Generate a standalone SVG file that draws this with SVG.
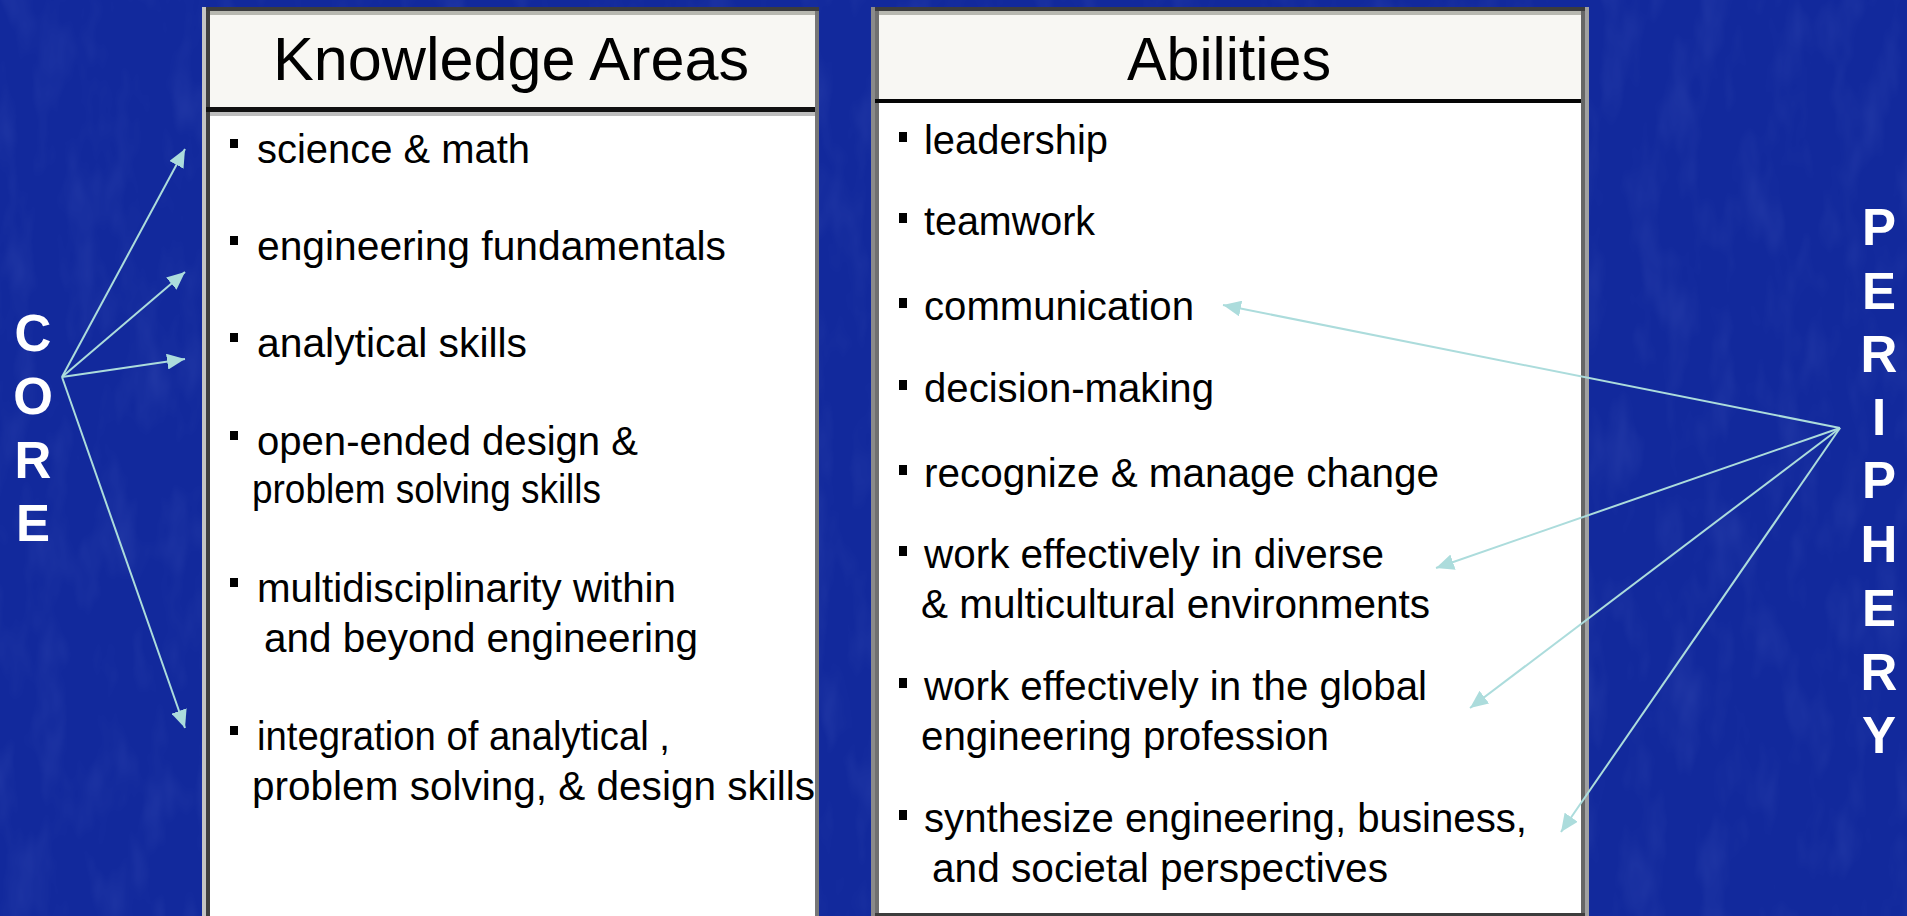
<svg xmlns="http://www.w3.org/2000/svg" width="1907" height="916" viewBox="0 0 1907 916">
  <defs>
    <style>
      .title { font-family: "Liberation Sans", Arial, sans-serif; font-size: 62px; fill: #000; }
      .item { font-family: "Liberation Sans", Arial, sans-serif; font-size: 40px; fill: #000; }
      .side { font-family: "Liberation Sans", Arial, sans-serif; font-size: 51px; font-weight: bold; fill: #fff; text-anchor: middle; }
      .arrow { stroke: #acdcdc; stroke-width: 2; fill: none; marker-end: url(#head); }
      .bullet { fill: #000; }
    </style>
    <marker id="head" markerUnits="userSpaceOnUse" markerWidth="20" markerHeight="16" refX="18" refY="8" orient="auto">
      <path d="M0,0 L18,8 L0,16 Z" fill="#acdcdc"/>
    </marker>
    <filter id="grain" x="0" y="0" width="100%" height="100%">
      <feTurbulence type="fractalNoise" baseFrequency="0.03 0.012" numOctaves="3" seed="7"/>
      <feColorMatrix type="matrix" values="0 0 0 0 0.45  0 0 0 0 0.55  0 0 0 0 1  0 0 0 1.2 -0.55"/>
    </filter>
  </defs>

  <!-- backdrop -->
  <rect x="0" y="0" width="1907" height="916" fill="#12299c"/>
  <rect x="0" y="0" width="1907" height="916" filter="url(#grain)" opacity="0.15"/>

  <!-- left column: knowledge areas -->
  <g id="knowledge-areas">
    <rect x="210" y="15" width="605" height="92" fill="#f8f7f3"/>
    <rect x="210" y="116" width="605" height="800" fill="#ffffff"/>
    <rect x="202" y="7" width="617" height="4" fill="#3c3c3c"/>
    <rect x="206" y="11" width="609" height="4" fill="#b8b8b0"/>
    <rect x="202" y="7" width="4" height="909" fill="#c4c4c4"/>
    <rect x="206" y="11" width="4" height="905" fill="#404040"/>
    <rect x="206" y="107" width="613" height="5" fill="#111111"/>
    <rect x="210" y="112" width="605" height="4" fill="#bdbdbd"/>
    <text class="title" x="273" y="80" textLength="476" lengthAdjust="spacingAndGlyphs">Knowledge Areas</text>

    <rect class="bullet" x="230" y="139" width="8" height="9"/>
    <text class="item" x="257" y="163" textLength="273" lengthAdjust="spacingAndGlyphs">science &amp; math</text>
    <rect class="bullet" x="230" y="236" width="8" height="9"/>
    <text class="item" x="257" y="260" textLength="469" lengthAdjust="spacingAndGlyphs">engineering fundamentals</text>
    <rect class="bullet" x="230" y="333" width="8" height="9"/>
    <text class="item" x="257" y="357" textLength="270" lengthAdjust="spacingAndGlyphs">analytical skills</text>
    <rect class="bullet" x="230" y="431" width="8" height="9"/>
    <text class="item" x="257" y="455" textLength="381" lengthAdjust="spacingAndGlyphs">open-ended design &amp;</text>
    <text class="item" x="252" y="503" textLength="349" lengthAdjust="spacingAndGlyphs">problem  solving skills</text>
    <rect class="bullet" x="230" y="578" width="8" height="9"/>
    <text class="item" x="257" y="602" textLength="419" lengthAdjust="spacingAndGlyphs">multidisciplinarity within</text>
    <text class="item" x="264" y="652" textLength="434" lengthAdjust="spacingAndGlyphs">and beyond engineering</text>
    <rect class="bullet" x="230" y="726" width="8" height="9"/>
    <text class="item" x="257" y="750" textLength="413" lengthAdjust="spacingAndGlyphs">integration of analytical ,</text>
    <text class="item" x="252" y="800" textLength="563" lengthAdjust="spacingAndGlyphs">problem  solving, &amp; design skills</text>

    <rect x="815" y="11" width="4" height="905" fill="#777777"/>
  </g>

  <!-- right column: abilities -->
  <g id="abilities">
    <rect x="879" y="15" width="702" height="84" fill="#f8f7f3"/>
    <rect x="879" y="103" width="702" height="811" fill="#ffffff"/>
    <rect x="871" y="7" width="718" height="4" fill="#3c3c3c"/>
    <rect x="875" y="11" width="706" height="4" fill="#b8b8b0"/>
    <rect x="871" y="7" width="4" height="909" fill="#8a8a8a"/>
    <rect x="875" y="11" width="4" height="905" fill="#707070"/>
    <rect x="875" y="99" width="710" height="4" fill="#050505"/>
    <rect x="1581" y="11" width="4" height="905" fill="#666666"/>
    <rect x="1585" y="7" width="4" height="909" fill="#a0a0a0"/>
    <rect x="875" y="913" width="710" height="3" fill="#3c3c3c"/>
    <text class="title" x="1127" y="80" textLength="204" lengthAdjust="spacingAndGlyphs">Abilities</text>

    <rect class="bullet" x="899" y="132" width="8" height="10"/>
    <text class="item" x="924" y="154" textLength="184" lengthAdjust="spacingAndGlyphs">leadership</text>
    <rect class="bullet" x="899" y="213" width="8" height="10"/>
    <text class="item" x="924" y="235" textLength="171" lengthAdjust="spacingAndGlyphs">teamwork</text>
    <rect class="bullet" x="899" y="298" width="8" height="10"/>
    <text class="item" x="924" y="320" textLength="270" lengthAdjust="spacingAndGlyphs">communication</text>
    <rect class="bullet" x="899" y="380" width="8" height="10"/>
    <text class="item" x="924" y="402" textLength="290" lengthAdjust="spacingAndGlyphs">decision-making</text>
    <rect class="bullet" x="899" y="465" width="8" height="10"/>
    <text class="item" x="924" y="487" textLength="515" lengthAdjust="spacingAndGlyphs">recognize &amp; manage change</text>
    <rect class="bullet" x="899" y="546" width="8" height="10"/>
    <text class="item" x="924" y="568" textLength="460" lengthAdjust="spacingAndGlyphs">work effectively in diverse</text>
    <text class="item" x="921" y="618" textLength="509" lengthAdjust="spacingAndGlyphs">&amp; multicultural environments</text>
    <rect class="bullet" x="899" y="678" width="8" height="10"/>
    <text class="item" x="924" y="700" textLength="503" lengthAdjust="spacingAndGlyphs">work effectively in the global</text>
    <text class="item" x="921" y="750" textLength="408" lengthAdjust="spacingAndGlyphs">engineering profession</text>
    <rect class="bullet" x="899" y="810" width="8" height="10"/>
    <text class="item" x="924" y="832" textLength="603" lengthAdjust="spacingAndGlyphs">synthesize engineering, business,</text>
    <text class="item" x="932" y="882" textLength="456" lengthAdjust="spacingAndGlyphs">and societal perspectives</text>
  </g>

  <!-- vertical labels -->
  <g id="core">
    <text class="side" x="33" y="351">C</text>
    <text class="side" x="33" y="414">O</text>
    <text class="side" x="33" y="478">R</text>
    <text class="side" x="33" y="541">E</text>
  </g>
  <g id="periphery">
    <text class="side" x="1879" y="245">P</text>
    <text class="side" x="1879" y="309">E</text>
    <text class="side" x="1879" y="372">R</text>
    <text class="side" x="1879" y="435">I</text>
    <text class="side" x="1879" y="498">P</text>
    <text class="side" x="1879" y="562">H</text>
    <text class="side" x="1879" y="626">E</text>
    <text class="side" x="1879" y="690">R</text>
    <text class="side" x="1879" y="753">Y</text>
  </g>

  <!-- connectors -->
  <g id="connectors">
    <line class="arrow" x1="62" y1="377" x2="185" y2="149"/>
    <line class="arrow" x1="62" y1="377" x2="185" y2="272"/>
    <line class="arrow" x1="62" y1="377" x2="185" y2="359"/>
    <line class="arrow" x1="62" y1="377" x2="185" y2="728"/>
    <line class="arrow" x1="1840" y1="428" x2="1223" y2="305"/>
    <line class="arrow" x1="1840" y1="428" x2="1436" y2="568"/>
    <line class="arrow" x1="1840" y1="428" x2="1470" y2="708"/>
    <line class="arrow" x1="1840" y1="428" x2="1561" y2="832"/>
  </g>
</svg>
